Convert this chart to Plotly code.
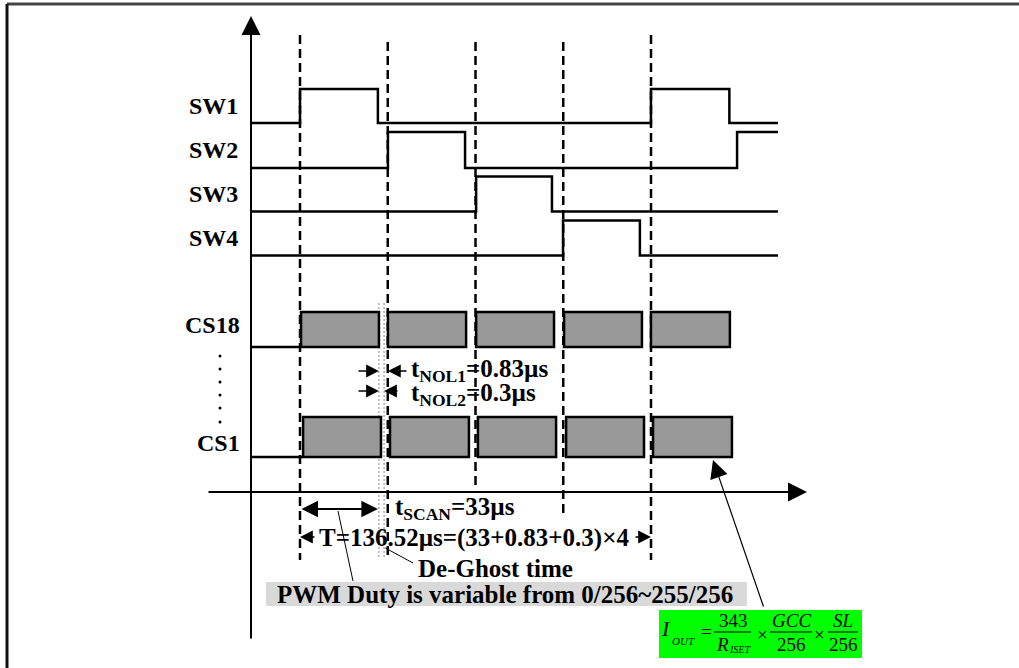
import plotly.graph_objects as go

# ---------------- data (µs) ----------------
T_SCAN = 33
T_NOL1 = 0.83
T_NOL2 = 0.3
T_PERIOD = round((T_SCAN + T_NOL1 + T_NOL2) * 4, 2)   # 136.52
slot_bounds = [0.0, 34.13, 68.26, 102.39, 136.52]      # dashed lines

t_start = -18.7
t_end = 185.9

sw_names = ["SW1", "SW2", "SW3", "SW4"]
sw1_edges = [0.0, 30.3, 136.5, 167.0]
sw2_edges = [34.2, 64.2, 170.0]
sw3_edges = [68.5, 98.0]
sw4_edges = [102.3, 132.2]
sw_edges = [sw1_edges, sw2_edges, sw3_edges, sw4_edges]

cs_names = ["CS18", "CS1"]
cs18_on = [0.4, 34.2, 68.5, 102.7, 136.5]
cs18_off = [30.7, 64.6, 98.8, 133.0, 167.2]
cs1_on = [1.2, 35.0, 69.2, 103.5, 137.3]
cs1_off = [31.5, 65.7, 99.6, 133.8, 168.0]

deghost = [30.7, 32.7]   # dotted de-ghost window

pwm_text = "PWM Duty is variable from 0/256~255/256"
deghost_text = "De-Ghost time"

# ---------------- layout helpers ----------------
W, H = 1019, 668
ORIGIN_PX = 300.0
PX_PER_US = 351.0 / T_PERIOD


def tx(px):
    return (px - ORIGIN_PX) / PX_PER_US


FONT = "Liberation Serif"
BLACK = "#000000"
LW = 2.5

sw_rows = {"SW1": (123, 34), "SW2": (168, 36), "SW3": (211.5, 35), "SW4": (255.5, 35)}
cs_rows = {"CS18": (347, 35), "CS1": (457, 40)}

fig = go.Figure()
shapes = []
ann = []

# frame
shapes.append(dict(type="line", xref="paper", yref="paper", x0=7 / W, x1=1, y0=1 - 4 / H, y1=1 - 4 / H,
                   line=dict(color="#444444", width=3)))
shapes.append(dict(type="line", xref="paper", yref="paper", x0=7 / W, x1=7 / W, y0=1 - 4 / H, y1=0,
                   line=dict(color="#111111", width=3)))

# dashed slot lines
dash_tops = [35, 42, 42, 42, 35]
dash_bots = [560, 558, 490, 513, 560]
for t, y0, y1 in zip(slot_bounds, dash_tops, dash_bots):
    shapes.append(dict(type="line", x0=t, x1=t, y0=y0, y1=y1,
                       line=dict(color=BLACK, width=2.5, dash="9px,5px")))

# dotted de-ghost lines
for t in deghost:
    shapes.append(dict(type="line", x0=t, x1=t, y0=303, y1=558,
                       line=dict(color="#888888", width=1, dash="2px,2px")))

# SW step signals
for name, edges in zip(sw_names, sw_edges):
    low, amp = sw_rows[name]
    xs = [t_start] + edges + [t_end]
    ys = [low]
    lvl = low
    for i in range(len(edges)):
        lvl = low - amp if i % 2 == 0 else low
        ys.append(lvl)
    ys.append(lvl)
    fig.add_trace(go.Scatter(x=xs, y=ys, mode="lines", line=dict(color=BLACK, width=LW, shape="hv"),
                             hoverinfo="skip", showlegend=False))
    ann.append(dict(x=t_start, y=low - amp / 2, text="<b>%s</b>" % name, showarrow=False,
                    xanchor="right", yanchor="middle", xshift=-12,
                    font=dict(family=FONT, size=24, color=BLACK)))

# CS rows
for name, ons, offs, yshift in zip(cs_names, [cs18_on, cs1_on], [cs18_off, cs1_off], [5, -6]):
    low, amp = cs_rows[name]
    fig.add_trace(go.Scatter(x=[t_start, ons[0]], y=[low, low], mode="lines",
                             line=dict(color=BLACK, width=LW), hoverinfo="skip", showlegend=False))
    for a, b in zip(ons, offs):
        shapes.append(dict(type="rect", x0=a, x1=b, y0=low - amp, y1=low,
                           fillcolor="#999999", line=dict(color=BLACK, width=LW)))
    ann.append(dict(x=t_start, y=low - amp / 2, text="<b>%s</b>" % name, showarrow=False,
                    xanchor="right", yanchor="middle", xshift=-10, yshift=yshift,
                    font=dict(family=FONT, size=24, color=BLACK)))

# vertical dots
fig.add_trace(go.Scatter(x=[tx(220)] * 6, y=[356, 369, 382, 395, 408, 422], mode="markers",
                         marker=dict(color=BLACK, size=3), hoverinfo="skip", showlegend=False))


def arrow(x_tip, y_tip, x_tail, y_tail, head=2, width=2, size=1.6, side="end"):
    ann.append(dict(x=x_tip, y=y_tip, ax=x_tail, ay=y_tail, axref="x", ayref="y", xref="x", yref="y",
                    text="", showarrow=True, arrowhead=head, arrowwidth=width, arrowsize=size,
                    arrowside=side, arrowcolor=BLACK, standoff=0, startstandoff=0, startarrowhead=head,
                    startarrowsize=size))


# axes
arrow(tx(251), 16, tx(251), 640, head=2, width=2, size=1.9)
arrow(tx(807), 492, tx(207), 492, head=2, width=2, size=1.9)

# tNOL arrows
arrow(cs18_off[0], 371, tx(357), 371, head=2, width=1.6, size=1.6)
arrow(cs18_on[1], 371, tx(408), 371, head=2, width=1.6, size=1.6)
arrow(deghost[0], 391, tx(357), 391, head=2, width=1.6, size=1.6)
arrow(deghost[1], 391, tx(399), 391, head=2, width=1.6, size=1.6)

# tSCAN double arrow
arrow(sw1_edges[1], 509, slot_bounds[0], 509, head=2, width=2.2, size=1.5, side="end+start")

# T arrows
arrow(slot_bounds[0], 537, tx(316), 537, head=2, width=1.6, size=1.6)
arrow(slot_bounds[-1], 537, tx(634), 537, head=2, width=1.6, size=1.6)

# leader lines
shapes.append(dict(type="line", x0=tx(338), x1=tx(353), y0=511, y1=581, line=dict(color=BLACK, width=1)))
shapes.append(dict(type="line", x0=deghost[1] + 0.5, x1=tx(413), y0=548, y1=563, line=dict(color=BLACK, width=1)))
arrow(tx(713), 460, tx(764), 608, head=2, width=1.2, size=3.0)

tf = dict(family=FONT, size=25, color=BLACK)
ann.append(dict(x=tx(409), y=370, text="<b>t<sub>NOL1</sub>=%sµs</b>" % T_NOL1, showarrow=False,
                xanchor="left", yanchor="middle", font=tf))
ann.append(dict(x=tx(409), y=394, text="<b>t<sub>NOL2</sub>=%sµs</b>" % T_NOL2, showarrow=False,
                xanchor="left", yanchor="middle", font=tf))
ann.append(dict(x=tx(393), y=508, text="<b>t<sub>SCAN</sub>=%sµs</b>" % T_SCAN, showarrow=False,
                xanchor="left", yanchor="middle", font=tf))
ann.append(dict(x=tx(474), y=538, text="<b>T=%sµs=(%s+%s+%s)×4</b>" % (T_PERIOD, T_SCAN, T_NOL1, T_NOL2),
                showarrow=False, xanchor="center", yanchor="middle", font=tf))
ann.append(dict(x=tx(416), y=568, text="<b>%s</b>" % deghost_text, showarrow=False,
                xanchor="left", yanchor="middle", font=tf))

# PWM box
shapes.append(dict(type="rect", x0=tx(266), x1=tx(747), y0=582, y1=606, fillcolor="#d9d9d9",
                   line=dict(width=0), layer="below"))
ann.append(dict(x=tx(505), y=594, text="<b>%s</b>" % pwm_text, showarrow=False,
                xanchor="center", yanchor="middle", font=tf))

# formula
shapes.append(dict(type="rect", x0=tx(659), x1=tx(862), y0=610, y1=658, fillcolor="#00ff00",
                   line=dict(width=0), layer="below"))
ff = dict(family=FONT, size=19, color=BLACK)
ann.append(dict(x=tx(666), y=628, text="<i>I</i>", showarrow=False, xanchor="center", yanchor="middle",
                font=dict(family=FONT, size=22, color=BLACK)))
ann.append(dict(x=tx(670), y=641, text="<i>OUT</i>", showarrow=False, xanchor="left", yanchor="middle",
                font=dict(family=FONT, size=11, color=BLACK)))
ann.append(dict(x=tx(706), y=631, text="=", showarrow=False, xanchor="center", yanchor="middle", font=ff))
ann.append(dict(x=tx(733), y=620, text="343", showarrow=False, xanchor="center", yanchor="middle", font=ff))
ann.append(dict(x=tx(722), y=644, text="<i>R</i>", showarrow=False, xanchor="center", yanchor="middle", font=ff))
ann.append(dict(x=tx(727), y=649, text="<i>ISET</i>", showarrow=False, xanchor="left", yanchor="middle",
                font=dict(family=FONT, size=10, color=BLACK)))
ann.append(dict(x=tx(762), y=634, text="×", showarrow=False, xanchor="center", yanchor="middle", font=ff))
ann.append(dict(x=tx(791), y=620, text="<i>GCC</i>", showarrow=False, xanchor="center", yanchor="middle", font=ff))
ann.append(dict(x=tx(791), y=644, text="256", showarrow=False, xanchor="center", yanchor="middle", font=ff))
ann.append(dict(x=tx(819), y=634, text="×", showarrow=False, xanchor="center", yanchor="middle", font=ff))
ann.append(dict(x=tx(843), y=620, text="<i>SL</i>", showarrow=False, xanchor="center", yanchor="middle", font=ff))
ann.append(dict(x=tx(843), y=644, text="256", showarrow=False, xanchor="center", yanchor="middle", font=ff))
for a, b in [(714, 751), (770, 812), (828, 858)]:
    shapes.append(dict(type="line", x0=tx(a), x1=tx(b), y0=632, y1=632, line=dict(color=BLACK, width=1)))

fig.update_layout(
    width=W, height=H, autosize=False,
    margin=dict(l=0, r=0, t=0, b=0),
    paper_bgcolor="white", plot_bgcolor="white",
    xaxis=dict(range=[tx(0), tx(W)], visible=False, fixedrange=True),
    yaxis=dict(range=[H, 0], visible=False, fixedrange=True),
    shapes=shapes, annotations=ann, showlegend=False,
)

fig.write_html("out.html", config=dict(displayModeBar=False, staticPlot=True),
               post_script="document.body.style.margin='0';document.body.style.overflow='hidden';")
